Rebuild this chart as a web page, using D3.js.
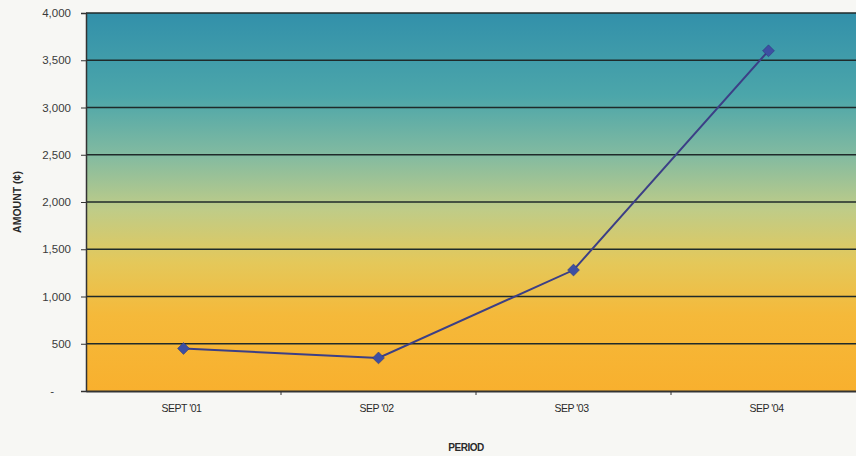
<!DOCTYPE html>
<html>
<head>
<meta charset="utf-8">
<script src="https://cdn.jsdelivr.net/npm/d3@7"></script>
<style>
  body { margin: 0; background: #f7f7f4; }
  svg { display: block; font-family: "Liberation Sans", Arial, sans-serif; }
</style>
</head>
<body>
<div id="chart"></div>
<script>
// chart values
const periods = ["SEPT '01", "SEP '02", "SEP '03", "SEP '04"];
const amounts = [450, 350, 1280, 3600];
const yTicks = [0, 500, 1000, 1500, 2000, 2500, 3000, 3500, 4000];

const width = 856, height = 456;
const plotLeft = 86, plotTop = 13, plotBottom = 391, plotRight = 866;

const svg = d3.select("#chart").append("svg")
  .attr("width", width)
  .attr("height", height);

// background gradient, teal top to orange bottom
const grad = svg.append("defs").append("linearGradient")
  .attr("id", "bg").attr("x1", 0).attr("y1", 0).attr("x2", 0).attr("y2", 1);
[[0, "#3290aa"], [0.22, "#4ca6aa"], [0.38, "#84bba0"], [0.52, "#bfcc88"],
 [0.66, "#e4c85a"], [0.8, "#f5b93a"], [1, "#f8b02e"]].forEach(s => {
  grad.append("stop").attr("offset", s[0]).attr("stop-color", s[1]);
});

const x = d3.scaleBand().domain(periods).range([plotLeft, plotRight]);
const y = d3.scaleLinear().domain([0, 4000]).range([plotBottom, plotTop]);

svg.append("rect")
  .attr("x", plotLeft).attr("y", plotTop)
  .attr("width", plotRight - plotLeft).attr("height", plotBottom - plotTop)
  .attr("fill", "url(#bg)");

// gridlines
svg.append("g").selectAll("line")
  .data(yTicks.filter(d => d > 0))
  .join("line")
  .attr("x1", plotLeft).attr("x2", plotRight)
  .attr("y1", d => y(d)).attr("y2", d => y(d))
  .attr("stroke", "#1f2a2a").attr("stroke-width", 1.5);

// y axis
const yAxis = svg.append("g")
  .attr("transform", "translate(" + plotLeft + ",0)")
  .call(d3.axisLeft(y).tickValues(yTicks).tickSize(5)
    .tickFormat(d => d === 0 ? "-" : d3.format(",")(d)));
yAxis.select(".domain").attr("stroke", "#333").attr("stroke-width", 1.5);
yAxis.selectAll(".tick line").attr("stroke", "#333");
yAxis.selectAll("text")
  .attr("font-size", 11.5).attr("fill", "#3a3a3a")
  .attr("x", d => d === 0 ? -32 : -15);

// x axis
const xAxis = svg.append("g")
  .attr("transform", "translate(0," + plotBottom + ")")
  .call(d3.axisBottom(x).tickSize(0).tickPadding(14));
xAxis.select(".domain").attr("stroke", "#333").attr("stroke-width", 2);
xAxis.selectAll("text")
  .attr("font-size", 10.5).attr("fill", "#2a2a2a").attr("letter-spacing", -0.5)
  .attr("dx", -2);

// small tick marks between categories
svg.append("g").selectAll("line")
  .data(periods.slice(1))
  .join("line")
  .attr("x1", d => x(d)).attr("x2", d => x(d))
  .attr("y1", plotBottom).attr("y2", plotBottom + 4)
  .attr("stroke", "#333");

// line
const line = d3.line()
  .x((d, i) => x(periods[i]) + x.bandwidth() / 2)
  .y(d => y(d));

svg.append("path")
  .datum(amounts)
  .attr("d", line)
  .attr("fill", "none")
  .attr("stroke", "#3c3f86")
  .attr("stroke-width", 2);

svg.append("g").selectAll("path")
  .data(amounts)
  .join("path")
  .attr("d", d3.symbol().type(d3.symbolDiamond2).size(90))
  .attr("transform", (d, i) => "translate(" + (x(periods[i]) + x.bandwidth() / 2) + "," + y(d) + ")")
  .attr("fill", "#3d4fa3")
  .attr("stroke", "#2e3577")
  .attr("stroke-width", 0.5);

// axis titles
svg.append("text")
  .attr("transform", "translate(21," + ((plotTop + plotBottom) / 2) + ") rotate(-90)")
  .attr("text-anchor", "middle")
  .attr("font-size", 10.5).attr("font-weight", "bold").attr("fill", "#2a2a2a")
  .text("AMOUNT (¢)");

svg.append("text")
  .attr("x", 466).attr("y", 451)
  .attr("text-anchor", "middle")
  .attr("font-size", 10).attr("font-weight", "bold").attr("fill", "#2a2a2a")
  .attr("letter-spacing", -0.5)
  .text("PERIOD");
</script>
</body>
</html>
